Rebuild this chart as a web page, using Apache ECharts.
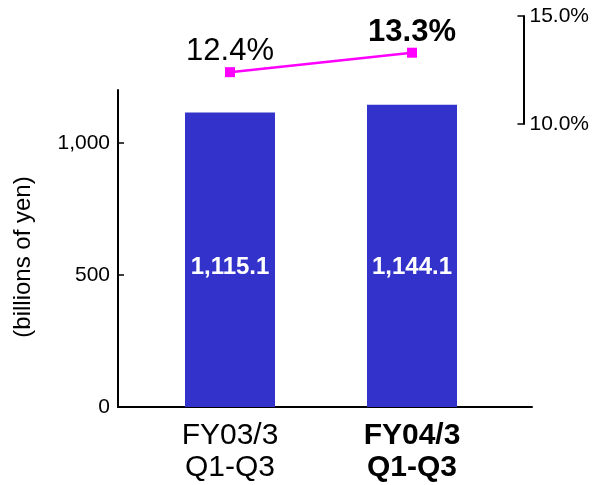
<!DOCTYPE html>
<html>
<head>
<meta charset="utf-8">
<script src="https://cdn.jsdelivr.net/npm/echarts@6/dist/echarts.min.js"></script>
<style>
html,body{margin:0;padding:0;background:#fff;}
#c{width:592px;height:485px;}
</style>
</head>
<body>
<div id="c"></div>
<script>
var categories = ['FY03/3\nQ1-Q3', 'FY04/3\nQ1-Q3'];
var salesValues = [1115.1, 1144.1];
var marginValues = [12.4, 13.3];
var leftTicks = [0, 500, 1000];
var rightTicks = [10, 15];
var highlightIndex = 1;

var FONT = "'Liberation Sans', Arial, sans-serif";
function fmt(v, d) {
  var s = v.toFixed(d);
  var parts = s.split('.');
  parts[0] = parts[0].replace(/\B(?=(\d{3})+(?!\d))/g, ',');
  return parts.join('.');
}

var chart = echarts.init(document.getElementById('c'), null, {renderer: 'canvas'});
var option = {
  animation: false,
  backgroundColor: '#fff',
  grid: [
    {left: 118, right: 60, top: 90, bottom: 78},
    {left: 139, right: 89, top: 16, bottom: 78},
    {left: 400, right: 68, top: 16, height: 108}
  ],
  xAxis: [
    {gridIndex: 0, type: 'category', data: categories,
     axisLine: {lineStyle: {color: '#000', width: 2}},
     axisTick: {show: false}, axisLabel: {show: false}},
    {gridIndex: 1, type: 'category', data: categories,
     axisLine: {show: false}, axisTick: {show: false},
     axisLabel: {
       interval: 0, hideOverlap: false,
       margin: 13, fontFamily: FONT, fontSize: 30, lineHeight: 32, color: '#000',
       formatter: function (v, i) {
         var lines = v.split('\n');
         var tag = (i === highlightIndex) ? 'b' : 'n';
         return lines.map(function (l) { return '{' + tag + '|' + l + '}'; }).join('\n');
       },
       rich: {
         n: {fontFamily: FONT, fontSize: 30, lineHeight: 32, color: '#000'},
         b: {fontFamily: FONT, fontSize: 30, lineHeight: 32, color: '#000', fontWeight: 'bold'}
       }
     }},
    {gridIndex: 2, type: 'category', data: categories, show: false}
  ],
  yAxis: [
    {gridIndex: 0, type: 'value', min: 0, max: 1200,
     name: '(billions of yen)', nameLocation: 'middle', nameGap: 83, nameRotate: 90,
     nameTextStyle: {fontFamily: FONT, fontSize: 24, color: '#000', padding: [0, 17, 0, 0]},
     axisLine: {show: true, lineStyle: {color: '#000', width: 2}},
     axisTick: {show: true, inside: true, length: 6, customValues: leftTicks, lineStyle: {color: '#000', width: 1.5}},
     axisLabel: {customValues: leftTicks, margin: 8, fontFamily: FONT, fontSize: 21, color: '#000',
       formatter: function (v) { return fmt(v, 0); }},
     splitLine: {show: false}},
    {gridIndex: 1, type: 'value', min: 0, max: 1200 * 391 / 317, show: false, splitLine: {show: false}},
    {gridIndex: 1, type: 'value', min: 15 - 5 * 391 / 108, max: 15, show: false, splitLine: {show: false}},
    {gridIndex: 2, type: 'value', position: 'right', min: 10, max: 15, interval: 5,
     axisLine: {show: true, lineStyle: {color: '#000', width: 2}},
     axisTick: {show: true, inside: true, length: 6, customValues: rightTicks, lineStyle: {color: '#000', width: 1.5}},
     axisLabel: {customValues: rightTicks, margin: 6, fontFamily: FONT, fontSize: 21, color: '#000',
       formatter: function (v) { return v.toFixed(1) + '%'; }},
     splitLine: {show: false}}
  ],
  series: [
    {type: 'bar', xAxisIndex: 1, yAxisIndex: 1, data: salesValues, barWidth: 90,
     itemStyle: {color: '#3333CC'},
     label: {show: true, position: 'insideBottom', distance: 128, color: '#fff',
       fontFamily: FONT, fontSize: 24, fontWeight: 'bold',
       formatter: function (p) { return fmt(p.value, 1); }}},
    {type: 'line', xAxisIndex: 1, yAxisIndex: 2,
     data: marginValues.map(function (v, i) {
       return {value: v, label: {fontWeight: i === highlightIndex ? 'bold' : 'normal'}};
     }),
     symbol: 'rect', symbolSize: 10,
     lineStyle: {color: '#FF00FF', width: 2.5},
     itemStyle: {color: '#FF00FF'},
     label: {show: true, position: 'top', distance: 0, color: '#000',
       fontFamily: FONT, fontSize: 31,
       formatter: function (p) { return p.value.toFixed(1) + '%'; }}}
  ]
};
chart.setOption(option);
</script>
</body>
</html>
